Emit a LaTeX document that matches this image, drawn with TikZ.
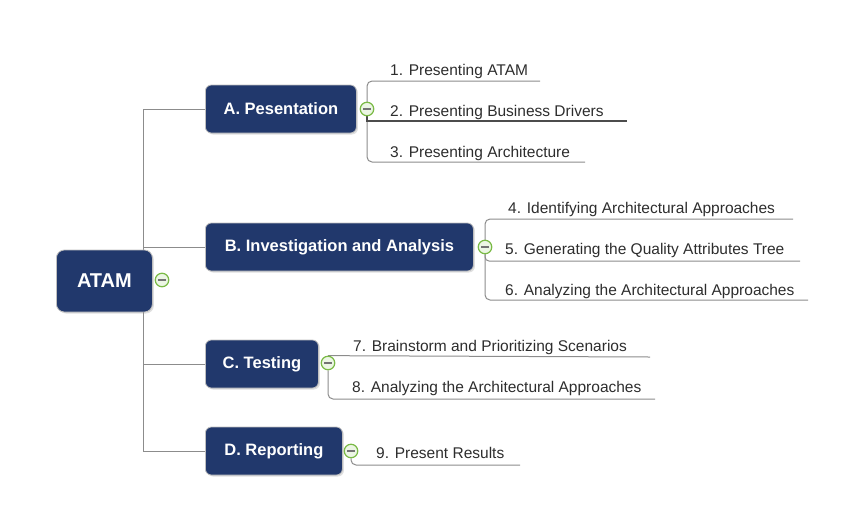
\documentclass[tikz,border=0pt]{standalone}
\usepackage{fontspec}
\setmainfont{Liberation Sans}
\usetikzlibrary{positioning}
\usetikzlibrary{backgrounds}
\usetikzlibrary{shadows}

\definecolor{topicblue}{RGB}{33,56,108}
\definecolor{knobgreen}{RGB}{122,186,70}
\definecolor{knobfill}{RGB}{236,246,228}
\definecolor{branchgray}{RGB}{140,140,140}
\definecolor{itemtext}{RGB}{45,45,45}

\tikzset{
	topic/.style={rectangle, rounded corners=6pt, fill=topicblue, draw=black!25, line width=0.8pt,
		text=white, font=\fontsize{16.5}{19}\selectfont\bfseries, minimum height=48pt, inner sep=0pt,
		anchor=west, drop shadow={opacity=0.25, shadow xshift=1.5pt, shadow yshift=-1.5pt}},
	item/.style={anchor=base west, inner sep=0pt, text=itemtext, font=\fontsize{15.5}{18}\selectfont},
	branch/.style={draw=branchgray, line width=1pt},
	knob/.style={circle, draw=knobgreen, line width=1.2pt, fill=knobfill, minimum size=13.5pt, inner sep=0pt,
		path picture={\draw[line width=1.4pt, black!55] ([xshift=3pt]path picture bounding box.west) -- ([xshift=-3pt]path picture bounding box.east);}}
}

\begin{document}
\begin{tikzpicture}[x=1pt,y=-1pt]
	\useasboundingbox (0,0) rectangle (843,507);

	%Root
	\node[topic, font=\fontsize{20}{24}\selectfont\bfseries, minimum width=96pt, minimum height=62pt, rounded corners=8pt] (atam) at (56,281) {ATAM};
	\node[knob] (atamknob) at (162,280) {};

	%Topics
	\node[topic, minimum width=151pt] (pres) at (205,109) {A. Pesentation};
	\node[topic, minimum width=268pt] (inv) at (205,247) {B. Investigation and Analysis};
	\node[topic, minimum width=113pt] (test) at (205,364) {C. Testing};
	\node[topic, minimum width=137pt] (rep) at (205,451) {D. Reporting};

	\node[knob] (presknob) at (367,109) {};
	\node[knob] (invknob) at (485,247) {};
	\node[knob] (testknob) at (328,363) {};
	\node[knob] (repknob) at (351,451) {};

	%Subtopics
	\node[item] (pres1) at (390,75) {1. Presenting ATAM};
	\node[item] (pres2) at (390,116) {2. Presenting Business Drivers};
	\node[item] (pres3) at (390,157) {3. Presenting Architecture};

	\node[item] (inv1) at (508,213) {4. Identifying Architectural Approaches};
	\node[item] (inv2) at (505,254) {5. Generating the Quality Attributes Tree};
	\node[item] (inv3) at (505,295) {6. Analyzing the Architectural Approaches};

	\node[item] (test1) at (353,351) {7. Brainstorm and Prioritizing Scenarios};
	\node[item] (test2) at (352,392) {8. Analyzing the Architectural Approaches};

	\node[item] (rep1) at (376,458) {9. Present Results};

	%Line ends
	\coordinate (trunk) at (143,451);
	\coordinate (prestop) at (367,81);
	\coordinate (presbot) at (367,162);
	\coordinate (pres1end) at (540,81);
	\coordinate (pres2end) at (627,121);
	\coordinate (pres3end) at (585,162);
	\coordinate (invtop) at (485,219);
	\coordinate (invbot) at (485,300);
	\coordinate (inv1end) at (793,219);
	\coordinate (inv2end) at (800,261);
	\coordinate (inv3end) at (808,300);
	\coordinate (test1end) at (650,357);
	\coordinate (test2end) at (655,399);
	\coordinate (rep1end) at (520,465);

	\begin{scope}[on background layer]
		\draw[branch] (pres.west) -| (trunk) -- (rep.west);
		\draw[branch] (inv.west) -- (inv.west -| trunk);
		\draw[branch] (test.west) -- (test.west -| trunk);

		\draw[branch, rounded corners=5pt] (pres1end) -- (prestop) -- (presbot) -- (pres3end);
		\draw[branch, draw=black!70, line width=1.4pt] (presknob.south) |- (pres2end);

		\draw[branch, rounded corners=5pt] (inv1end) -- (invtop) -- (invbot) -- (inv3end);
		\draw[branch, rounded corners=4pt] (invknob.south) |- (inv2end);

		\draw[branch] (testknob.north) -- (test1end);
		\draw[branch, rounded corners=5pt] (testknob.south) |- (test2end);

		\draw[branch, rounded corners=5pt] (repknob.south) |- (rep1end);
	\end{scope}
\end{tikzpicture}
\end{document}
